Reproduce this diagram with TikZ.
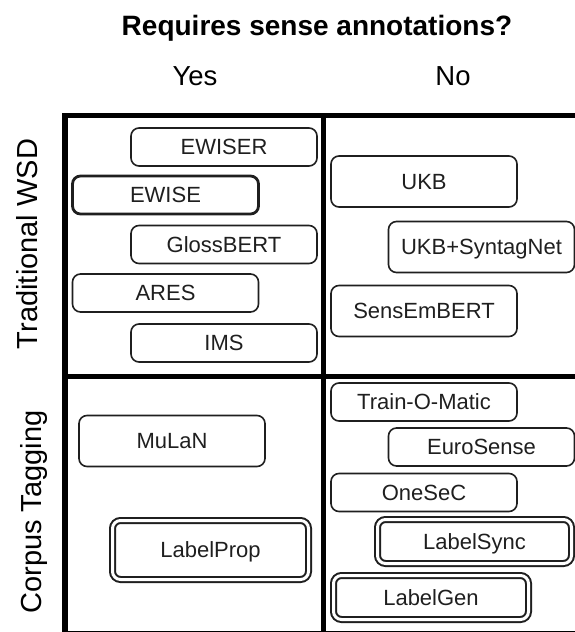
\documentclass[tikz,border=0pt]{standalone}
\usepackage{fontspec}
\setmainfont{Liberation Sans}
\begin{document}
\begin{tikzpicture}[x=1pt,y=-1pt,
  grid/.style={line width=5.5pt, line join=miter, draw=black},
  mbox/.style={draw=black!88, line width=1.6pt, rounded corners=8pt,
    minimum width=186pt, minimum height=38pt, inner sep=0pt,
    text height=15.5pt, text depth=0pt, text=black!88,
    font=\fontsize{22}{26}\selectfont},
  tallbox/.style={mbox, minimum height=51pt},
  thickbox/.style={mbox, line width=2.8pt},
  dbox/.style={mbox, double=white, double distance=3pt, line width=2pt},
  head/.style={anchor=base, font=\fontsize{28}{32}\selectfont},
  side/.style={anchor=base, rotate=90, font=\fontsize{29}{33}\selectfont}
]
\clip (0,0) rectangle (575,632);
\fill[white] (0,0) rectangle (575,632);

% headings
\node[head, font=\fontsize{28}{32}\selectfont\bfseries] (title) at (317,35) {Requires sense annotations?};
\node[head, font=\fontsize{27.5}{32}\selectfont] (yes) at (195,85) {Yes};
\node[head, font=\fontsize{27.5}{32}\selectfont] (no) at (453,85) {No};
\node[side] (twsd) at (37,244) {Traditional WSD};
\node[side] (ct) at (41,512) {Corpus Tagging};

% grid
\draw[grid] (65,115.5) rectangle (640,634);
\draw[grid] (65,376.5) -- (640,376.5);
\draw[grid] (323.5,115.5) -- (323.5,634);

% Traditional WSD / Yes
\node[mbox] (ewiser) at (224,147) {EWISER};
\node[thickbox] (ewise) at (165.5,195) {EWISE};
\node[mbox] (glossbert) at (224,244.5) {GlossBERT};
\node[mbox] (ares) at (165.5,293) {ARES};
\node[mbox] (ims) at (224,343) {IMS};

% Traditional WSD / No
\node[tallbox] (ukb) at (424,181.5) {UKB};
\node[tallbox] (ukbsyn) at (481.5,247) {UKB+SyntagNet};
\node[tallbox] (sensembert) at (424,311) {SensEmBERT};

% Corpus Tagging / Yes
\node[tallbox] (mulan) at (172,441) {MuLaN};
\node[dbox, minimum width=196pt, minimum height=59pt] (labelprop) at (210.5,550) {LabelProp};

% Corpus Tagging / No
\node[mbox] (tom) at (424,402) {Train-O-Matic};
\node[mbox] (eurosense) at (481.5,447) {EuroSense};
\node[mbox] (onesec) at (424,492.5) {OneSeC};
\node[dbox, minimum width=194pt, minimum height=44pt] (labelsync) at (474.5,541.5) {LabelSync};
\node[dbox, minimum width=195pt, minimum height=44pt] (labelgen) at (431,597.5) {LabelGen};
\end{tikzpicture}
\end{document}
